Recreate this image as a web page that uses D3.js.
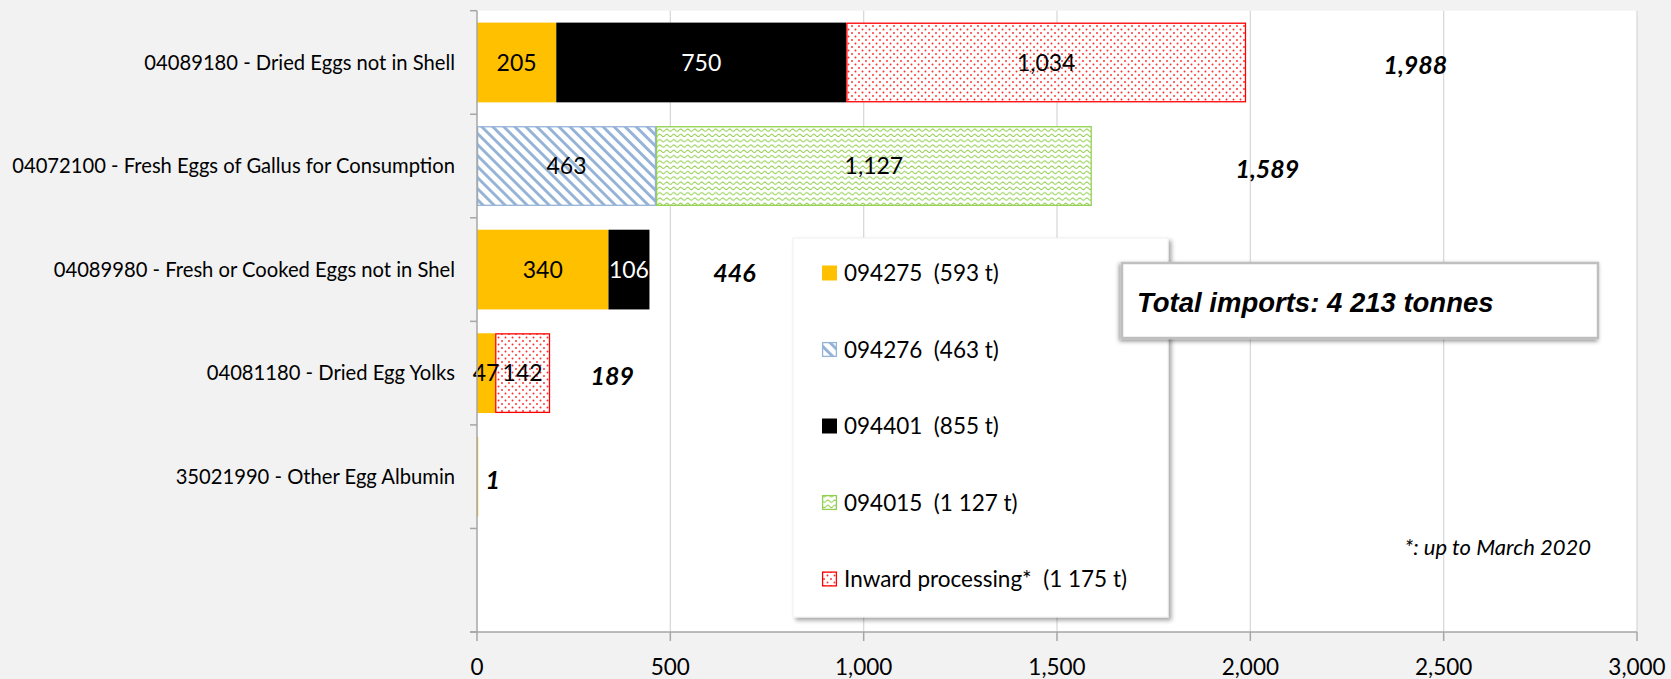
<!DOCTYPE html>
<html>
<head>
<meta charset="utf-8">
<script src="https://cdn.jsdelivr.net/npm/d3@7/dist/d3.min.js"></script>
<style>
html,body{margin:0;padding:0;background:#f2f2f2;}
svg{display:block;}
text{font-family:Lato,"Open Sans",sans-serif;}
text.arial{font-family:"Liberation Sans",Arial,sans-serif;}
</style>
</head>
<body>
<svg id="chart" width="1671" height="679"></svg>
<script>
// ---- data ----
const categories = [
  "04089180 - Dried Eggs not in Shell",
  "04072100 - Fresh Eggs of Gallus for Consumption",
  "04089980 - Fresh or Cooked Eggs not in Shel",
  "04081180 - Dried Egg Yolks",
  "35021990 - Other Egg Albumin",
  ""
];
const seriesNames = ["094275", "094276", "094401", "094015", "Inward processing*"];
const legendTotals = ["593 t", "463 t", "855 t", "1 127 t", "1 175 t"];
const s094275 = [205, 0, 340, 47, 1, 0];
const s094276 = [0, 463, 0, 0, 0, 0];
const s094401 = [750, 0, 106, 0, 0, 0];
const s094015 = [0, 1127, 0, 0, 0, 0];
const sInward = [1034, 0, 0, 142, 0, 0];
const totals = [1988, 1589, 446, 189, 1, null];
// value-axis position where each total annotation sits
const totalLabelAnchor = [2427, 2044, 666, 350, 41, null];
const xTicks = [0, 500, 1000, 1500, 2000, 2500, 3000];
const totalText = "Total imports: 4 213 tonnes";
const footnote = "*: up to March 2020";

// ---- setup ----
const W = 1671, H = 679;
const plot = {left: 477, right: 1637, top: 10.7, bottom: 632};
const svg = d3.select("#chart");

const x = d3.scaleLinear().domain([0, 3000]).range([plot.left, plot.right]);
const y = d3.scaleBand().domain(d3.range(categories.length))
  .range([plot.top, plot.bottom]).paddingInner(0.23).paddingOuter(0.115);

// ---- patterns & filters ----
const defs = svg.append("defs");
const pStripe = defs.append("pattern").attr("id", "pStripe").attr("patternUnits", "userSpaceOnUse")
  .attr("width", 7.8).attr("height", 7.8).attr("patternTransform", "rotate(-45)");
pStripe.append("rect").attr("width", 7.8).attr("height", 7.8).attr("fill", "#fff");
pStripe.append("rect").attr("width", 2.9).attr("height", 7.8).attr("fill", "#95b3d7");

const pWave = defs.append("pattern").attr("id", "pWave").attr("patternUnits", "userSpaceOnUse")
  .attr("width", 7).attr("height", 5.3);
pWave.append("rect").attr("width", 7).attr("height", 5.3).attr("fill", "#fff");
pWave.append("path").attr("d", "M0,3 Q1.75,0.8 3.5,3 T7,3").attr("fill", "none")
  .attr("stroke", "#92d050").attr("stroke-width", 1);

const pDot = defs.append("pattern").attr("id", "pDot").attr("patternUnits", "userSpaceOnUse")
  .attr("width", 7).attr("height", 7);
pDot.append("rect").attr("width", 7).attr("height", 7).attr("fill", "#fff");
pDot.append("circle").attr("cx", 1.5).attr("cy", 1.5).attr("r", 0.95).attr("fill", "#ff2a2a");
pDot.append("circle").attr("cx", 5).attr("cy", 5).attr("r", 0.95).attr("fill", "#ff2a2a");

const fLeg = defs.append("filter").attr("id", "shLeg").attr("x", "-10%").attr("y", "-10%").attr("width", "120%").attr("height", "120%");
fLeg.append("feDropShadow").attr("dx", 3).attr("dy", 3).attr("stdDeviation", 2).attr("flood-color", "#000").attr("flood-opacity", 0.35);
const fBox = defs.append("filter").attr("id", "shBox").attr("x", "-10%").attr("y", "-30%").attr("width", "120%").attr("height", "160%");
fBox.append("feDropShadow").attr("dx", -1.5).attr("dy", 2).attr("stdDeviation", 2).attr("flood-color", "#000").attr("flood-opacity", 0.45);

const styles = [
  {fill: "#ffc000", stroke: "none", label: "#000"},
  {fill: "url(#pStripe)", stroke: "#95b3d7", label: "#000"},
  {fill: "#000", stroke: "none", label: "#fff"},
  {fill: "url(#pWave)", stroke: "#92d050", label: "#000"},
  {fill: "url(#pDot)", stroke: "#ff0000", label: "#000"}
];

// ---- background ----
svg.append("rect").attr("width", W).attr("height", H).attr("fill", "#f2f2f2");
svg.append("rect").attr("x", plot.left).attr("y", plot.top)
  .attr("width", plot.right - plot.left).attr("height", plot.bottom - plot.top).attr("fill", "#fff");

// gridlines
svg.append("g").selectAll("line").data(xTicks.filter(d => d > 0)).join("line")
  .attr("x1", d => x(d)).attr("x2", d => x(d))
  .attr("y1", plot.top).attr("y2", plot.bottom)
  .attr("stroke", "#d9d9d9").attr("stroke-width", 1.3);

// ---- stacked bars ----
const rows = categories.map((c, i) => ({
  i, "094275": s094275[i], "094276": s094276[i], "094401": s094401[i],
  "094015": s094015[i], "Inward processing*": sInward[i]
}));
const stack = d3.stack().keys(seriesNames)(rows);
const fmt = d3.format(",");

const barG = svg.append("g");
stack.forEach((layer, si) => {
  const st = styles[si];
  layer.forEach((seg, ri) => {
    const v = seg[1] - seg[0];
    if (v <= 0) return;
    const x0 = x(seg[0]);
    const w = Math.max(1.2, x(seg[1]) - x0);
    const inset = st.stroke === "none" ? 0 : 0.6;
    barG.append("rect")
      .attr("x", x0 + inset).attr("y", y(ri) + inset)
      .attr("width", w - 2 * inset).attr("height", y.bandwidth() - 2 * inset)
      .attr("fill", st.fill)
      .attr("stroke", st.stroke).attr("stroke-width", st.stroke === "none" ? 0 : 1.3);
  });
});
// value labels
stack.forEach((layer, si) => {
  const st = styles[si];
  layer.forEach((seg, ri) => {
    const v = seg[1] - seg[0];
    if (v <= 1) return;
    barG.append("text")
      .attr("x", (x(seg[0]) + x(seg[1])) / 2)
      .attr("y", y(ri) + y.bandwidth() / 2)
      .attr("dy", "0.36em")
      .attr("text-anchor", "middle")
      .attr("font-size", 23)
      .attr("fill", st.label)
      .text(fmt(v));
  });
});

// ---- axes ----
const yAxisG = svg.append("g");
yAxisG.append("line").attr("x1", plot.left).attr("x2", plot.left)
  .attr("y1", plot.top).attr("y2", plot.bottom).attr("stroke", "#a6a6a6").attr("stroke-width", 1.5);
const boundaries = d3.range(categories.length + 1).map(k => plot.top + k * y.step());
yAxisG.selectAll("line.tk").data(boundaries).join("line").attr("class", "tk")
  .attr("x1", plot.left - 7).attr("x2", plot.left)
  .attr("y1", d => d).attr("y2", d => d)
  .attr("stroke", "#a6a6a6").attr("stroke-width", 1.5);
yAxisG.selectAll("text").data(categories).join("text")
  .attr("x", plot.left - 22)
  .attr("y", (d, i) => y(i) + y.bandwidth() / 2)
  .attr("dy", "0.36em")
  .attr("text-anchor", "end")
  .attr("font-size", 20.2)
  .attr("fill", "#000")
  .text(d => d);

const xAxisG = svg.append("g");
xAxisG.append("line").attr("x1", plot.left - 7).attr("x2", plot.right)
  .attr("y1", plot.bottom).attr("y2", plot.bottom).attr("stroke", "#a6a6a6").attr("stroke-width", 1.5);
xAxisG.selectAll("line.tk").data(xTicks).join("line").attr("class", "tk")
  .attr("x1", d => x(d)).attr("x2", d => x(d))
  .attr("y1", plot.bottom).attr("y2", plot.bottom + 9)
  .attr("stroke", "#a6a6a6").attr("stroke-width", 1.5);
xAxisG.selectAll("text").data(xTicks).join("text")
  .attr("x", d => x(d)).attr("y", 667).attr("dy", "0.36em")
  .attr("text-anchor", "middle").attr("font-size", 22.5).attr("fill", "#000")
  .text(d => fmt(d));

// ---- total labels ----
svg.append("g").selectAll("text").data(totals.map((t, i) => ({t, i})).filter(d => d.t !== null)).join("text")
  .attr("x", d => x(totalLabelAnchor[d.i]))
  .attr("y", d => y(d.i) + y.bandwidth() / 2 + 3)
  .attr("dy", "0.36em")
  .attr("text-anchor", "middle")
  .attr("font-size", 25).attr("font-weight", "bold").attr("font-style", "italic")
  .text(d => fmt(d.t));

// ---- footnote ----
svg.append("text").attr("x", 1591).attr("y", 547).attr("dy", "0.36em")
  .attr("text-anchor", "end").attr("font-size", 22).attr("font-style", "italic")
  .text(footnote);

// ---- legend ----
const leg = {x: 793, y: 238, w: 375, h: 379, firstY: 273, step: 76.5};
const legG = svg.append("g");
legG.append("rect").attr("x", leg.x).attr("y", leg.y).attr("width", leg.w).attr("height", leg.h)
  .attr("fill", "#fff").attr("stroke", "#f0f0f0").attr("stroke-width", 1).attr("filter", "url(#shLeg)");
seriesNames.forEach((name, i) => {
  const cy = leg.firstY + i * leg.step;
  const st = styles[i];
  const bordered = st.stroke !== "none";
  legG.append("rect").attr("x", 822 + (bordered ? 0.6 : 0)).attr("y", cy - 7.5 + (bordered ? 0.6 : 0))
    .attr("width", bordered ? 13.8 : 15).attr("height", bordered ? 13.8 : 15)
    .attr("fill", st.fill).attr("stroke", st.stroke).attr("stroke-width", bordered ? 1.3 : 0);
  legG.append("text").attr("x", 844).attr("y", cy).attr("dy", "0.36em")
    .attr("font-size", 22.5).attr("fill", "#000")
    .text(name + "\u00a0\u00a0(" + legendTotals[i] + ")");
});

// ---- total box ----
const boxG = svg.append("g");
boxG.append("rect").attr("x", 1122).attr("y", 263).attr("width", 476).attr("height", 75)
  .attr("fill", "#fff").attr("stroke", "#bfbfbf").attr("stroke-width", 2.5).attr("filter", "url(#shBox)");
boxG.append("text").attr("class", "arial").attr("x", 1137).attr("y", 312)
  .attr("font-size", 27.5).attr("font-weight", "bold").attr("font-style", "italic")
  .text(totalText);
</script>
</body>
</html>
